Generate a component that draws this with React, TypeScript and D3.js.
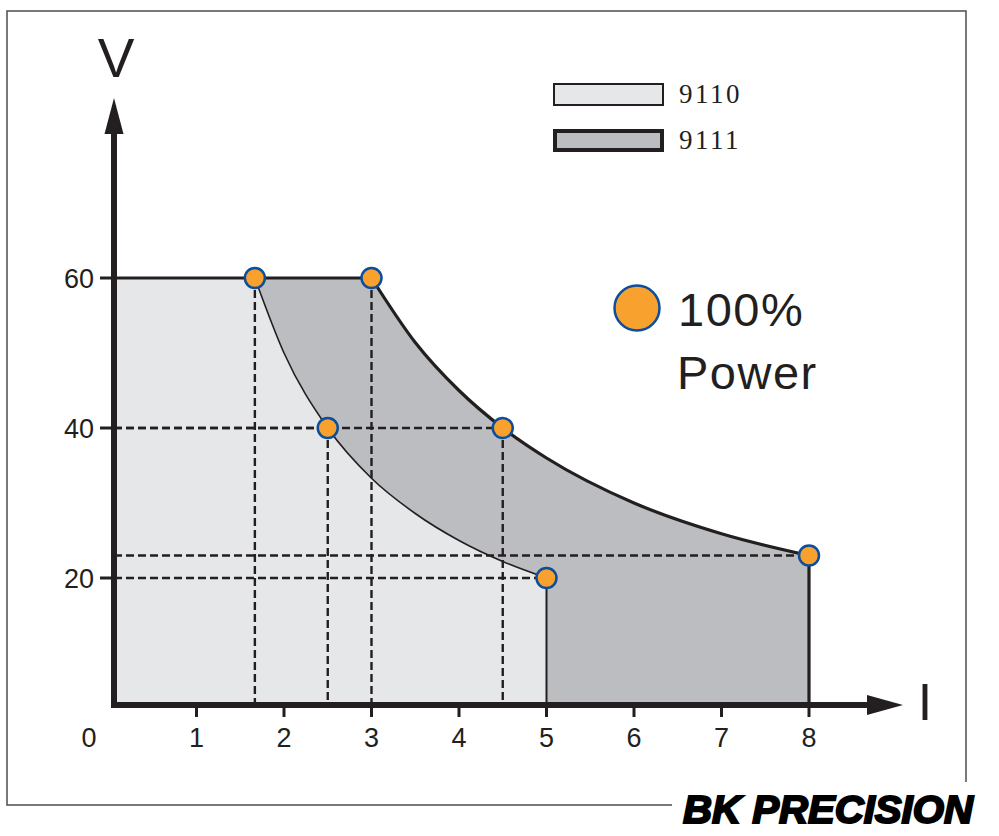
import React from 'react';
import * as d3 from 'd3';

// ---- data ----
const xTicks = [1, 2, 3, 4, 5, 6, 7, 8];
const yTicks = [20, 40, 60];
const maxV = 60;
const curve9110I = [1.667, 2, 2.5, 3, 3.5, 4, 4.5, 5];
const curve9110V = [60, 50, 40, 33.3, 28.6, 25, 22.2, 20];
const curve9111I = [3, 3.5, 4, 4.5, 5, 6, 7, 8];
const curve9111V = [60, 51.4, 45, 40, 36, 30, 25.9, 23];
const powerI = [1.667, 2.5, 5, 3, 4.5, 8];
const powerV = [60, 40, 20, 60, 40, 23];
const guideVertIdx = [0, 1, 3, 4];
const guideHorizIdx = [1, 4, 2, 5];
const legendLabels = ['9110', '9111'];

const W = 999;
const H = 836;

const SANS = '"Liberation Sans", Arial, Helvetica, sans-serif';

export default function App() {
  const x = d3.scaleLinear().domain([0, 8]).range([109, 809]);
  const y = d3.scaleLinear().domain([0, 60]).range([728, 278]);
  const axisX = 114;
  const axisY = 705;

  const c9110 = curve9110I.map((v, i) => [x(v), y(curve9110V[i])] as [number, number]);
  const c9111 = curve9111I.map((v, i) => [x(v), y(curve9111V[i])] as [number, number]);
  const line = d3.line().curve(d3.curveMonotoneX);
  const p9110 = line(c9110) as string;
  const p9111 = line(c9111) as string;

  const fill9111 = `M${axisX},${axisY}L${axisX},${y(maxV)}L${p9111.slice(1)}L${x(8)},${axisY}Z`;
  const fill9110 = `M${axisX},${axisY}L${axisX},${y(maxV)}L${p9110.slice(1)}L${x(5)},${axisY}Z`;

  const dark = '#231f20';
  const light = '#e6e7e8';
  const mid = '#bcbdc0';
  const lastI = powerI[5];
  const lastV = powerV[5];

  return (
    <svg width={W} height={H} style={{ display: 'block', position: 'absolute', left: 0, top: 0 }}>
      <rect x={0} y={0} width={W} height={H} fill="#fff" />
      {/* frame */}
      <path d="M672,805H7V11H966V782" fill="none" stroke="#4d4d4f" strokeWidth={1.5} />

      {/* fills */}
      <path d={fill9111} fill={mid} />
      <path d={fill9110} fill={light} />

      {/* dashed guides */}
      {guideVertIdx.map((k) => (
        <line key={'gv' + k} x1={x(powerI[k])} x2={x(powerI[k])} y1={y(powerV[k])} y2={axisY}
          stroke={dark} strokeWidth={2.4} strokeDasharray="8,4" />
      ))}
      {guideHorizIdx.map((k) => (
        <line key={'gh' + k} x1={axisX} x2={x(powerI[k])} y1={y(powerV[k])} y2={y(powerV[k])}
          stroke={dark} strokeWidth={2.4} strokeDasharray="8,4" />
      ))}

      {/* outlines */}
      <path d={p9110} fill="none" stroke={dark} strokeWidth={1.6} />
      <line x1={x(5)} x2={x(5)} y1={y(20)} y2={axisY} stroke={dark} strokeWidth={2} />
      <path d={p9111} fill="none" stroke={dark} strokeWidth={3.2} />
      <line x1={x(lastI)} x2={x(lastI)} y1={y(lastV)} y2={axisY} stroke={dark} strokeWidth={3.2} />
      <line x1={axisX} x2={x(3)} y1={y(maxV)} y2={y(maxV)} stroke={dark} strokeWidth={3} />

      {/* axes */}
      <line x1={axisX} x2={axisX} y1={axisY + 3} y2={128} stroke={dark} strokeWidth={6} />
      <path d={`M${axisX},98L${axisX + 9.5},134L${axisX - 9.5},134Z`} fill={dark} />
      <line x1={axisX - 3} x2={872} y1={axisY} y2={axisY} stroke={dark} strokeWidth={6} />
      <path d={`M903,${axisY}L867,${axisY - 10}L867,${axisY + 10}Z`} fill={dark} />

      {/* x ticks */}
      {xTicks.map((t) => (
        <g key={'xt' + t}>
          <line x1={x(t)} x2={x(t)} y1={axisY} y2={717} stroke={dark} strokeWidth={3} />
          <text x={x(t)} y={747} textAnchor="middle" fontFamily={SANS} fontSize={27} fill={dark}>{t}</text>
        </g>
      ))}
      <text x={89} y={747} textAnchor="middle" fontFamily={SANS} fontSize={27} fill={dark}>0</text>

      {/* y ticks */}
      {yTicks.map((t) => (
        <g key={'yt' + t}>
          <line x1={100} x2={axisX} y1={y(t)} y2={y(t)} stroke={dark} strokeWidth={3} />
          <text x={94} y={y(t) + 10} textAnchor="end" fontFamily={SANS} fontSize={27} fill={dark}>{t}</text>
        </g>
      ))}

      {/* axis titles */}
      <text x={116} y={77} textAnchor="middle" fontFamily={SANS} fontSize={55} fill={dark}>V</text>
      <text x={925} y={720} textAnchor="middle" fontFamily={SANS} fontSize={52} fill={dark}>I</text>

      {/* power points */}
      {powerI.map((v, i) => (
        <circle key={'pp' + i} cx={x(v)} cy={y(powerV[i])} r={10} fill="#f9a12e" stroke="#0b4f9c" strokeWidth={2.5} />
      ))}

      {/* legend */}
      <rect x={554} y={84} width={109} height={21} fill={light} stroke={dark} strokeWidth={2} />
      <rect x={555} y={131} width={107} height={19} fill={mid} stroke={dark} strokeWidth={4} />
      {legendLabels.map((l, i) => (
        <text key={l} x={679} y={103 + i * 46} fontFamily='"Liberation Serif", "DejaVu Serif", serif' fontSize={27}
          letterSpacing={2.5} fill={dark}>{l}</text>
      ))}

      <circle cx={637} cy={308} r={22.5} fill="#f9a12e" stroke="#0b4f9c" strokeWidth={2.5} />
      <text x={678} y={326} fontFamily={SANS} fontSize={47} letterSpacing={1.5} fill={dark}>100%</text>
      <text x={677} y={389} fontFamily={SANS} fontSize={47} letterSpacing={1.5} fill={dark}>Power</text>

      {/* logo */}
      <text x={683} y={823} fontFamily={SANS} fontWeight="bold" fontStyle="italic" fontSize={38}
        textLength={290} lengthAdjust="spacingAndGlyphs" fill="#000" stroke="#000" strokeWidth={2}>BK PRECISION</text>
    </svg>
  );
}
